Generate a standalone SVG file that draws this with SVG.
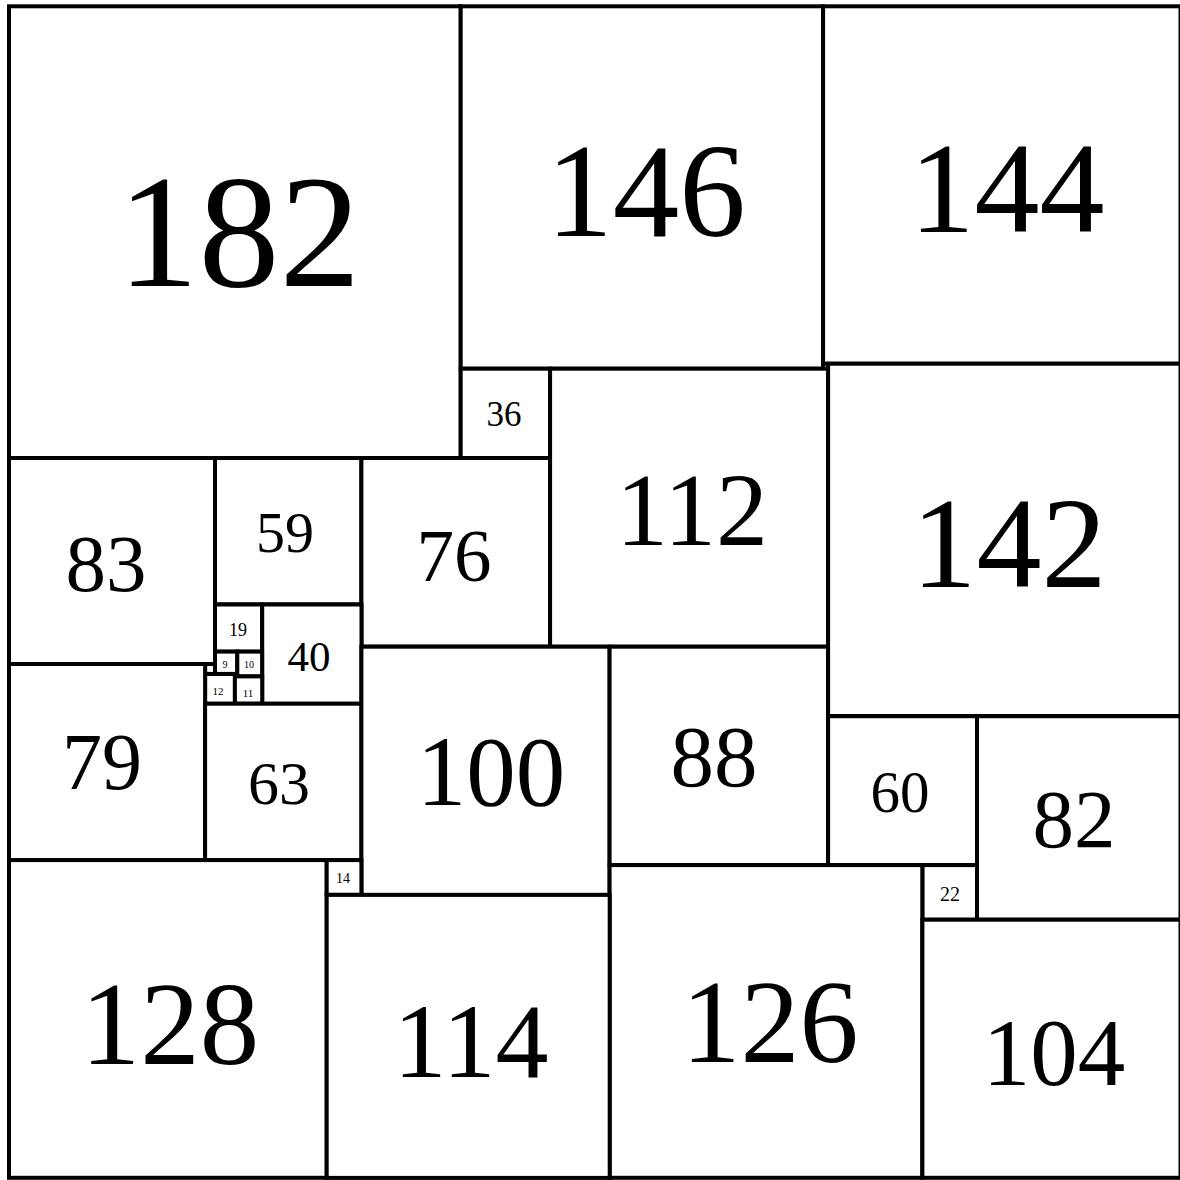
<svg xmlns="http://www.w3.org/2000/svg" width="1180" height="1180" viewBox="0 0 1180 1180">
<style>
rect{fill:#fff;stroke:#000;stroke-width:4}
text{fill:#000;text-anchor:middle}
</style>
<rect x="0" y="0" width="1180" height="1180" style="stroke:none"/>
<g id="connectors"/>
<g font-family="'Liberation Serif', Tinos, 'Times New Roman', 'Nimbus Roman', 'DejaVu Serif', serif">
<g id="s182"><rect x="9" y="6.3" width="451.7" height="451.7"/><text x="239" y="286" font-size="162">182</text></g>
<g id="s146"><rect x="460.7" y="6.3" width="362.4" height="362.4"/><text x="646" y="236" font-size="133">146</text></g>
<g id="s144"><rect x="823.1" y="6.3" width="357.4" height="357.4"/><text x="1007" y="232" font-size="130">144</text></g>
<g id="s36"><rect x="460.7" y="368.7" width="89.4" height="89.4"/><text x="504" y="426" font-size="35">36</text></g>
<g id="s112"><rect x="550.1" y="368.7" width="278" height="278"/><text x="692" y="545" font-size="104">112</text></g>
<g id="s142"><rect x="828.1" y="363.7" width="352.4" height="352.4"/><text x="1009" y="587" font-size="130">142</text></g>
<g id="s83"><rect x="9" y="458" width="206" height="206"/><text x="106" y="591" font-size="81">83</text></g>
<g id="s59"><rect x="215" y="458" width="146.4" height="146.4"/><text x="285" y="552" font-size="58">59</text></g>
<g id="s76"><rect x="361.4" y="458" width="188.6" height="188.6"/><text x="454" y="581" font-size="75">76</text></g>
<g id="s19"><rect x="215" y="604.5" width="47.2" height="47.2"/><text x="238" y="636" font-size="18">19</text></g>
<g id="s40"><rect x="262.2" y="604.5" width="99.3" height="99.3"/><text x="309" y="671" font-size="43">40</text></g>
<g id="s9"><rect x="215" y="651.6" width="22.3" height="22.3"/><text x="225" y="668" font-size="10">9</text></g>
<g id="s10"><rect x="237.3" y="651.6" width="24.8" height="24.8"/><text x="249" y="668" font-size="10">10</text></g>
<g id="s4"><rect x="205.1" y="664" width="9.9" height="9.9"/></g>
<g id="s12"><rect x="205.1" y="674" width="29.8" height="29.8"/><text x="218" y="695" font-size="11">12</text></g>
<g id="s11"><rect x="234.9" y="676.4" width="27.3" height="27.3"/><text x="248" y="697" font-size="11">11</text></g>
<g id="s79"><rect x="9" y="664" width="196.1" height="196.1"/><text x="102" y="789" font-size="80">79</text></g>
<g id="s63"><rect x="205.1" y="703.7" width="156.4" height="156.4"/><text x="279" y="804" font-size="62">63</text></g>
<g id="s100"><rect x="361.4" y="646.7" width="248.2" height="248.2"/><text x="491" y="805" font-size="99">100</text></g>
<g id="s88"><rect x="609.6" y="646.7" width="218.4" height="218.4"/><text x="714" y="786" font-size="87">88</text></g>
<g id="s60"><rect x="828.1" y="716.2" width="148.9" height="148.9"/><text x="900" y="812" font-size="59">60</text></g>
<g id="s82"><rect x="977" y="716.2" width="203.5" height="203.5"/><text x="1074" y="847" font-size="83">82</text></g>
<g id="s22"><rect x="922.4" y="865.1" width="54.6" height="54.6"/><text x="950" y="901" font-size="20">22</text></g>
<g id="s126"><rect x="609.6" y="865.1" width="312.7" height="312.7"/><text x="770" y="1062" font-size="118">126</text></g>
<g id="s104"><rect x="922.4" y="919.7" width="258.1" height="258.1"/><text x="1054" y="1085" font-size="95">104</text></g>
<g id="s128"><rect x="9" y="860.1" width="317.7" height="317.7"/><text x="170" y="1064" font-size="119">128</text></g>
<g id="s14"><rect x="326.7" y="860.1" width="34.7" height="34.7"/><text x="343" y="883" font-size="14">14</text></g>
<g id="s114"><rect x="326.7" y="894.9" width="283" height="283"/><text x="471" y="1077" font-size="106">114</text></g>
</g>
</svg>
